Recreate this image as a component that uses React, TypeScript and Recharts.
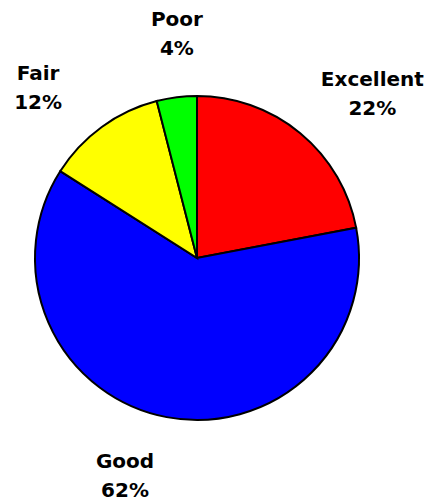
import { PieChart, Pie, Cell } from "recharts";

// rating distribution, clockwise from 12 o'clock
const RATINGS = ["Excellent", "Good", "Fair", "Poor"];
const SHARES = [22, 62, 12, 4];
const COLORS = ["#ff0000", "#0000ff", "#ffff00", "#00ff00"];

const data = RATINGS.map((name, i) => ({ name, value: SHARES[i] }));

const RADIAN = Math.PI / 180;
const FONT = "'DejaVu Sans', Verdana, sans-serif";

// small hand nudges so labels clear the pie like the old spreadsheet layout
const LABEL_NUDGE: Record<string, [number, number]> = {
  Excellent: [2, 1],
  Good: [-21, 5],
  Fair: [1, 4],
  Poor: [14, -11],
};

// two-line label (name / percent) pushed out along the slice's mid angle
function renderLabel(props: any) {
  const { cx, cy, midAngle, name, value } = props;
  const [nx, ny] = LABEL_NUDGE[name] ?? [0, 0];
  const x = cx + 272 * Math.cos(-midAngle * RADIAN) + nx;
  const y = cy + 216 * Math.sin(-midAngle * RADIAN) + ny;
  return (
    <text
      x={x}
      y={y}
      textAnchor="middle"
      fontFamily={FONT}
      fontWeight="bold"
      fontSize={20}
      fill="#000"
    >
      <tspan x={x} y={y - 14} dominantBaseline="central">
        {name}
      </tspan>
      <tspan x={x} y={y + 15} dominantBaseline="central">
        {value}%
      </tspan>
    </text>
  );
}

export default function App() {
  return (
    <div style={{ position: "absolute", left: 0, top: 0, background: "#fff" }}>
      <PieChart
        width={431}
        height={502}
        margin={{ top: 0, right: 0, bottom: 0, left: 0 }}
      >
        <Pie
          data={data}
          dataKey="value"
          nameKey="name"
          cx={197}
          cy={258}
          outerRadius={162}
          startAngle={90}
          endAngle={-270}
          stroke="#000"
          strokeWidth={2}
          label={renderLabel}
          labelLine={false}
          isAnimationActive={false}
        >
          {data.map((d, i) => (
            <Cell key={d.name} fill={COLORS[i]} />
          ))}
        </Pie>
      </PieChart>
    </div>
  );
}
